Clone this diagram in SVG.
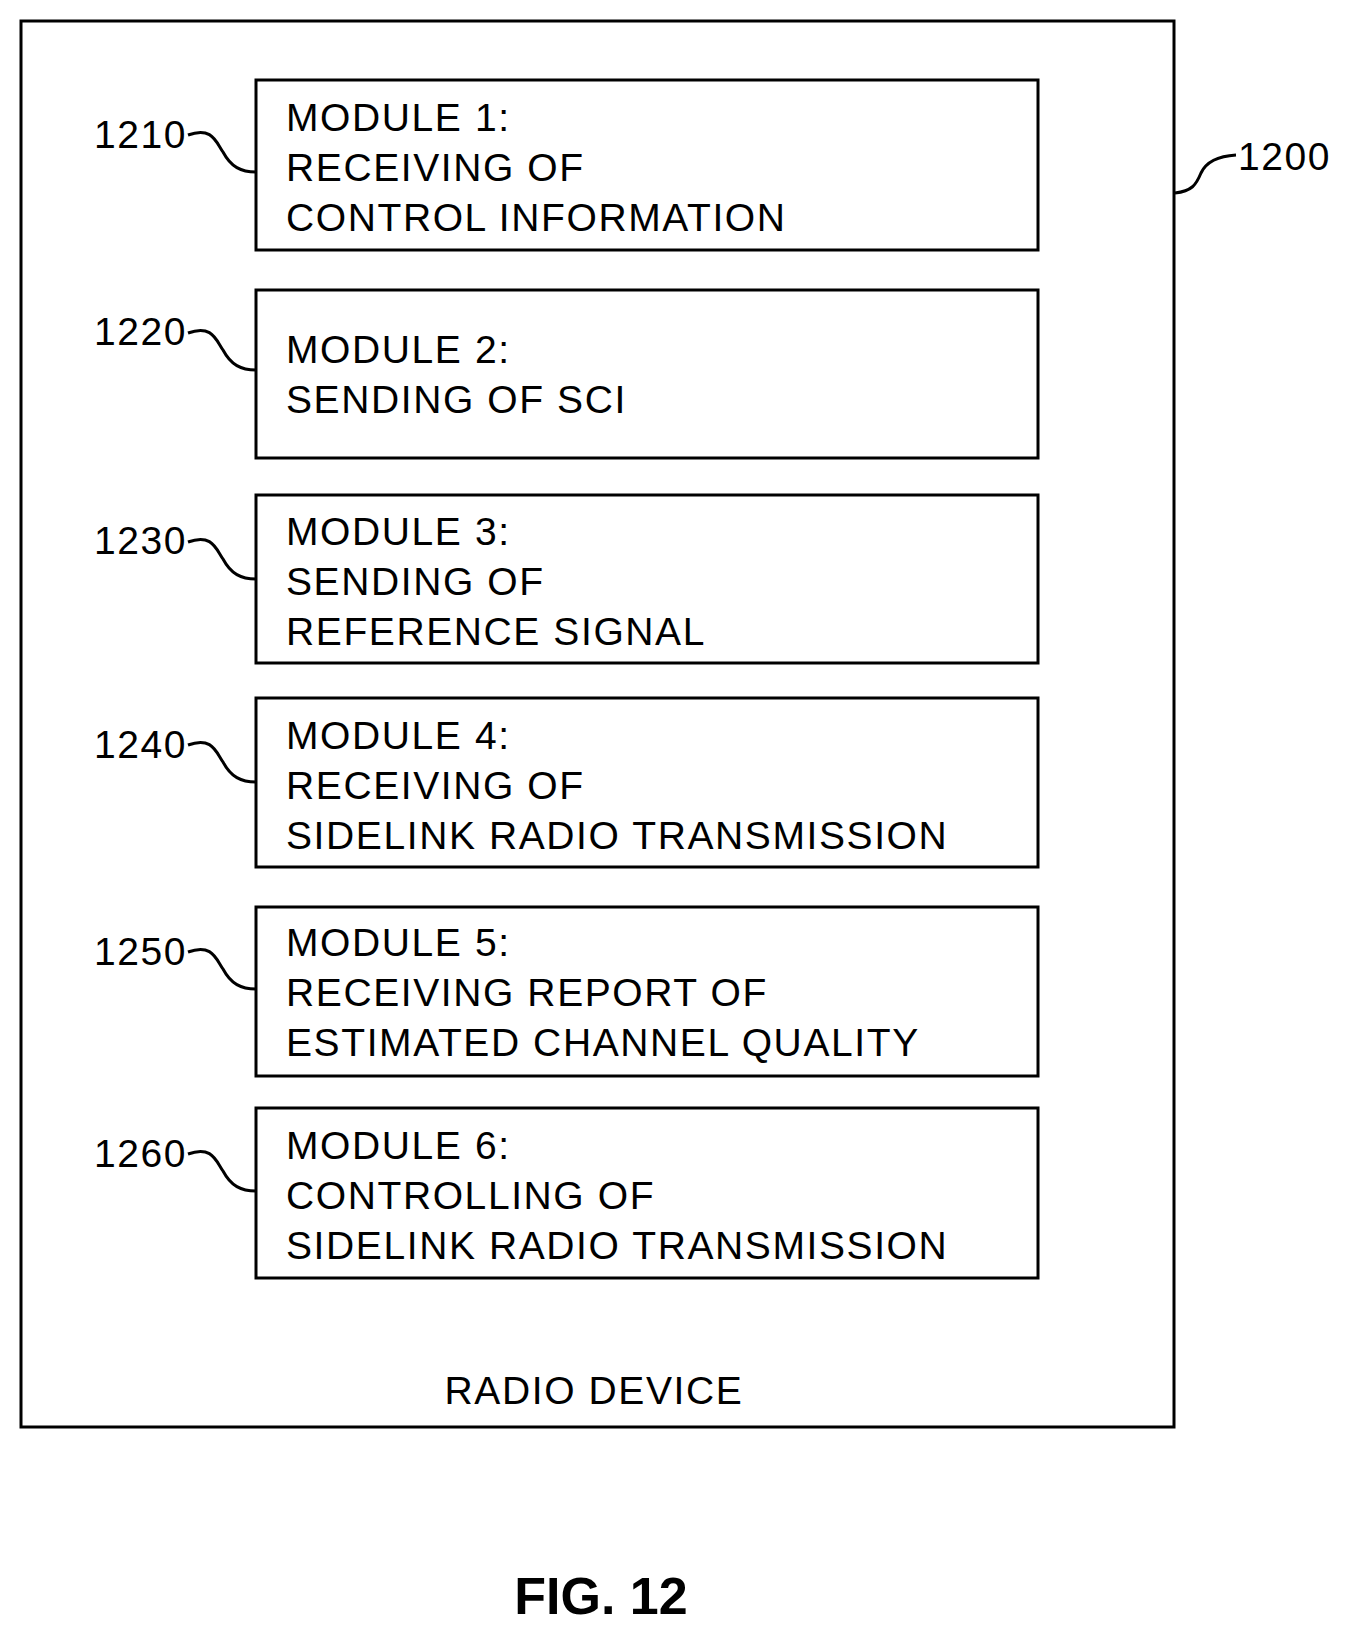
<svg xmlns="http://www.w3.org/2000/svg" width="1354" height="1643" viewBox="0 0 1354 1643">
<style>
.b{fill:none;stroke:#000;stroke-width:3}
.t{font-family:"Liberation Sans",Arial,sans-serif;font-size:39px;letter-spacing:1.6px;fill:#000}
.l{fill:none;stroke:#000;stroke-width:3}
</style>
<rect width="1354" height="1643" fill="#fff"/>
<g id="device"><rect class="b" x="21" y="21" width="1153" height="1406"/>
<text class="t" x="594" y="1404" text-anchor="middle">RADIO DEVICE</text>
<text class="t" x="1238" y="170">1200</text></g>
<g id="m1"><rect class="b" x="256" y="80" width="782" height="170"/>
<text class="t" x="286" y="131">MODULE 1:</text><text class="t" x="286" y="181">RECEIVING OF</text><text class="t" x="286" y="231">CONTROL INFORMATION</text>
<text class="t" x="94" y="148">1210</text></g>
<g id="m2"><rect class="b" x="256" y="290" width="782" height="168"/>
<text class="t" x="286" y="363">MODULE 2:</text><text class="t" x="286" y="413">SENDING OF SCI</text>
<text class="t" x="94" y="345">1220</text></g>
<g id="m3"><rect class="b" x="256" y="495" width="782" height="168"/>
<text class="t" x="286" y="545">MODULE 3:</text><text class="t" x="286" y="595">SENDING OF</text><text class="t" x="286" y="645">REFERENCE SIGNAL</text>
<text class="t" x="94" y="554">1230</text></g>
<g id="m4"><rect class="b" x="256" y="698" width="782" height="169"/>
<text class="t" x="286" y="749">MODULE 4:</text><text class="t" x="286" y="799">RECEIVING OF</text><text class="t" x="286" y="849">SIDELINK RADIO TRANSMISSION</text>
<text class="t" x="94" y="758">1240</text></g>
<g id="m5"><rect class="b" x="256" y="907" width="782" height="169"/>
<text class="t" x="286" y="956">MODULE 5:</text><text class="t" x="286" y="1006">RECEIVING REPORT OF</text><text class="t" x="286" y="1056">ESTIMATED CHANNEL QUALITY</text>
<text class="t" x="94" y="965">1250</text></g>
<g id="m6"><rect class="b" x="256" y="1108" width="782" height="170"/>
<text class="t" x="286" y="1159">MODULE 6:</text><text class="t" x="286" y="1209">CONTROLLING OF</text><text class="t" x="286" y="1259">SIDELINK RADIO TRANSMISSION</text>
<text class="t" x="94" y="1167">1260</text></g>
<g id="connectors">
<path class="l" d="M188,135 C212,126 216,142 223,152 C231,167 241,172 256,172"/>
<path class="l" d="M188,333 C212,324 216,340 223,350 C231,365 241,370 256,370"/>
<path class="l" d="M188,542 C212,533 216,549 223,559 C231,574 241,579 256,579"/>
<path class="l" d="M188,745 C212,736 216,752 223,762 C231,777 241,782 256,782"/>
<path class="l" d="M188,952 C212,943 216,959 223,969 C231,984 241,989 256,989"/>
<path class="l" d="M188,1154 C212,1145 216,1161 223,1171 C231,1186 241,1191 256,1191"/>
<path class="l" d="M1175,193 C1192,191 1196,185 1201,173 C1207,160 1220,156 1236,155"/>
</g>
<text x="601" y="1614" text-anchor="middle" style="font-family:'Liberation Sans',Arial,sans-serif;font-size:52px;font-weight:bold">FIG. 12</text>
</svg>
